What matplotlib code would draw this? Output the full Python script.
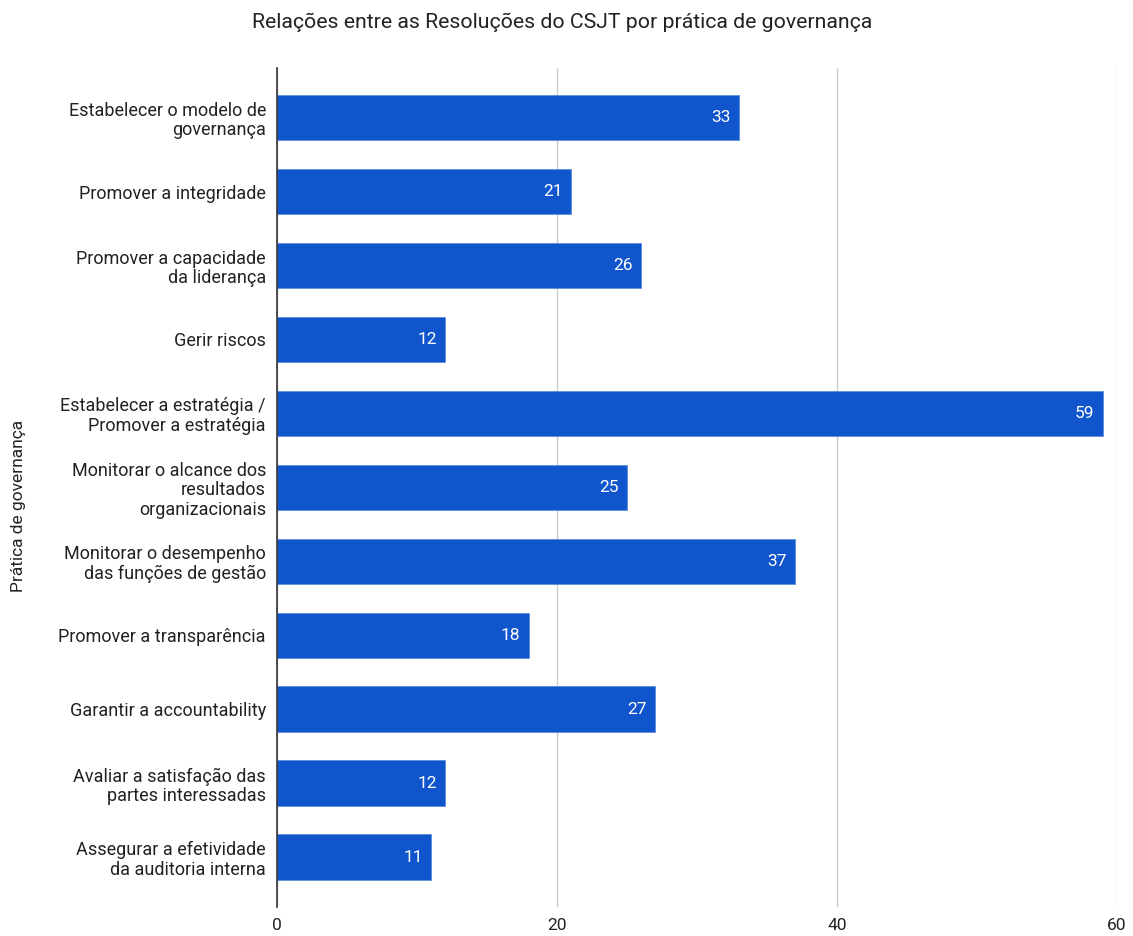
import matplotlib.pyplot as plt

plt.rcParams['font.family'] = ['Roboto', 'DejaVu Sans']

praticas = [
    "Estabelecer o modelo de\ngovernança",
    "Promover a integridade",
    "Promover a capacidade\nda liderança",
    "Gerir riscos",
    "Estabelecer a estratégia /\nPromover a estratégia",
    "Monitorar o alcance dos\nresultados\norganizacionais",
    "Monitorar o desempenho\ndas funções de gestão",
    "Promover a transparência",
    "Garantir a accountability",
    "Avaliar a satisfação das\npartes interessadas",
    "Assegurar a efetividade\nda auditoria interna",
]
relacoes = [33, 21, 26, 12, 59, 25, 37, 18, 27, 12, 11]
xticks = [0, 20, 40, 60]

fig = plt.figure(figsize=(11.33, 9.36), dpi=100)
ax = fig.add_axes([0.2445, 0.031, 0.7414, 0.8964])

pos = list(range(len(praticas)))
bars = ax.barh(pos, relacoes, height=0.62, color="#1155cc",
               edgecolor="#5b8ee0", linewidth=0.6, zorder=3)
for b, v in zip(bars, relacoes):
    ax.text(b.get_width() - 0.6, b.get_y() + b.get_height() / 2, str(v),
            ha="right", va="center", color="white", fontsize=12.5, zorder=4)

ax.set_yticks(pos)
ax.set_yticklabels(praticas, fontsize=13, color="#222222", linespacing=1.1)
ax.set_ylim(len(praticas) - 0.33, -0.67)
ax.set_xlim(0, 60)
ax.set_xticks(xticks)
ax.set_xticklabels([str(t) for t in xticks], fontsize=12.5, color="#222222")
ax.tick_params(length=0)
ax.tick_params(axis="y", pad=8)
ax.tick_params(axis="x", pad=8)
ax.grid(axis="x", color="#cccccc", linewidth=1, zorder=0)
for s in ["top", "right", "bottom"]:
    ax.spines[s].set_visible(False)
ax.spines["left"].set_color("#333333")
ax.spines["left"].set_linewidth(1.2)
ax.spines["left"].set_zorder(5)

fig.text(0.496, 0.976, "Relações entre as Resoluções do CSJT por prática de governança",
         ha="center", va="center", fontsize=15.3, color="#222222")
fig.text(0.016, 0.46, "Prática de governança", rotation=90,
         ha="center", va="center", fontsize=12.5, color="#222222")

fig.savefig("out.png", dpi=100)
